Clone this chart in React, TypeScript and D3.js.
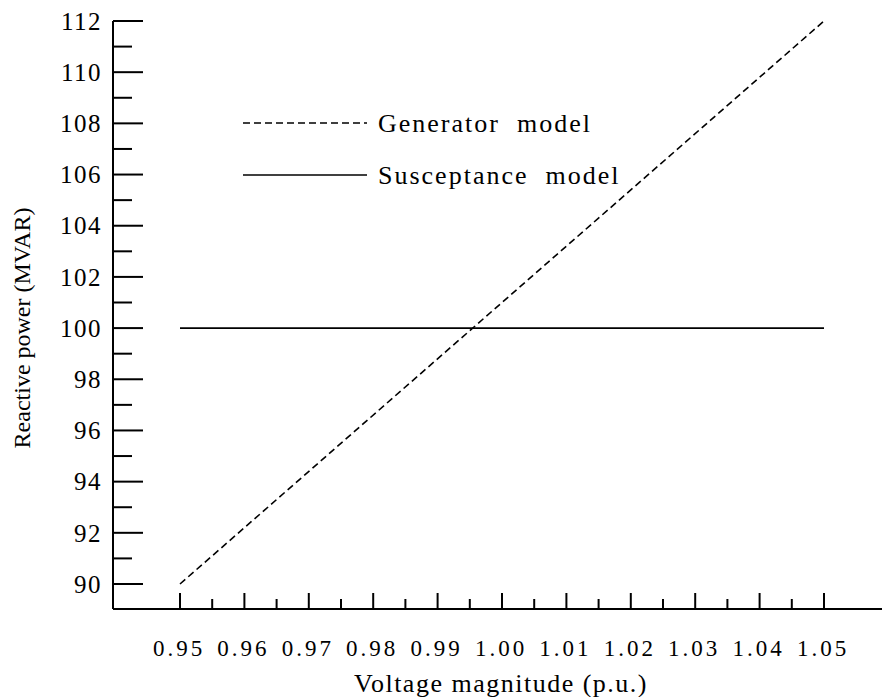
import React from 'react'
import * as d3 from 'd3'

// voltage magnitude (p.u.) and reactive power (MVAR)
const voltage = [0.95, 1.05]
const generatorQ = [90, 112]
const susceptanceQ = [100, 100]

const xTicks = [0.95, 0.96, 0.97, 0.98, 0.99, 1.0, 1.01, 1.02, 1.03, 1.04, 1.05]
const xMinor = [0.955, 0.965, 0.975, 0.985, 0.995, 1.005, 1.015, 1.025, 1.035, 1.045]
const yTicks = [90, 92, 94, 96, 98, 100, 102, 104, 106, 108, 110, 112]
const yMinor = [91, 93, 95, 97, 99, 101, 103, 105, 107, 109, 111]

const legendItems = ['Generator  model', 'Susceptance  model']

const W = 884
const H = 697
const axisX = 113
const axisY = 609
const font = '"Liberation Serif", "Times New Roman", serif'

const App = () => {
  const x = d3.scaleLinear().domain([0.95, 1.05]).range([180, 824])
  const y = d3.scaleLinear().domain([90, 112]).range([584, 21])

  const line = d3.line<number>()
    .x((_, i) => x(voltage[i]))
    .y(d => y(d))

  return (
    <svg width={W} height={H} style={{ position: 'absolute', left: 0, top: 0, background: '#fff' }}>
      <g stroke="#000" fill="none">
        {/* axes */}
        <line x1={axisX} y1={y(112)} x2={axisX} y2={axisY} strokeWidth={2} />
        <line x1={axisX} y1={axisY} x2={882} y2={axisY} strokeWidth={2} />

        {yTicks.map(t => (
          <line key={'yt' + t} x1={axisX} x2={axisX + 30} y1={y(t)} y2={y(t)} strokeWidth={2} />
        ))}
        {yMinor.map(t => (
          <line key={'ym' + t} x1={axisX} x2={axisX + 19} y1={y(t)} y2={y(t)} strokeWidth={2} />
        ))}
        {xTicks.map(t => (
          <line key={'xt' + t} x1={x(t)} x2={x(t)} y1={axisY} y2={axisY - 16} strokeWidth={2} />
        ))}
        {xMinor.map(t => (
          <line key={'xm' + t} x1={x(t)} x2={x(t)} y1={axisY} y2={axisY - 10} strokeWidth={2} />
        ))}

        {/* series */}
        <path d={line(generatorQ) || ''} strokeWidth={1.6} strokeDasharray="7,4" />
        <path d={line(susceptanceQ) || ''} strokeWidth={1.6} />

        {/* legend */}
        <line x1={243} x2={367} y1={123} y2={123} strokeWidth={1.6} strokeDasharray="7,4" />
        <line x1={243} x2={367} y1={175} y2={175} strokeWidth={1.6} />
      </g>

      <g fontFamily={font} fill="#000">
        {yTicks.map(t => (
          <text key={'yl' + t} x={102} y={y(t)} dy="0.35em" textAnchor="end" fontSize={25} letterSpacing={1.5}>
            {t}
          </text>
        ))}
        {xTicks.map(t => (
          <text key={'xl' + t} x={x(t) - 1} y={656} textAnchor="middle" fontSize={23} letterSpacing={3}>
            {t.toFixed(2)}
          </text>
        ))}
        <text transform={`translate(30,328) rotate(-90)`} textAnchor="middle" fontSize={24}>
          Reactive power (MVAR)
        </text>
        <text x={501} y={692} textAnchor="middle" fontSize={26} letterSpacing={1.5}>
          Voltage magnitude (p.u.)
        </text>
        {legendItems.map((s, i) => (
          <text key={s} x={378} y={123 + i * 52} dy="0.35em" fontSize={26} letterSpacing={2} style={{ whiteSpace: 'pre' }}>
            {s}
          </text>
        ))}
      </g>
    </svg>
  )
}

export default App
